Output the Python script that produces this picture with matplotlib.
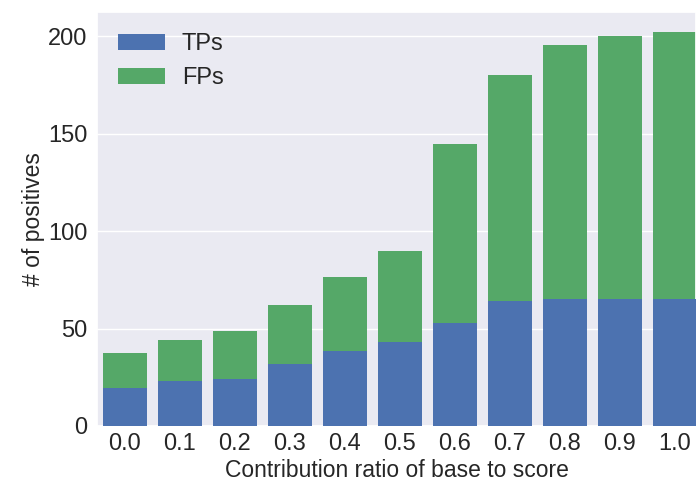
import matplotlib
matplotlib.use("Agg")
import matplotlib.pyplot as plt
import seaborn as sns
import numpy as np

categories = ["0.0", "0.1", "0.2", "0.3", "0.4", "0.5", "0.6", "0.7", "0.8", "0.9", "1.0"]
tps = [19.5, 23, 24, 32, 38.3, 43, 53, 64, 65, 65, 65]
totals = [37.3, 44, 49, 62, 76.3, 90, 145, 180, 195.4, 200, 202]

sns.set_theme(style="darkgrid")
plt.rcParams['font.family'] = ['Liberation Sans', 'DejaVu Sans']

fig = plt.figure(figsize=(6.96, 4.79), dpi=100)
ax = fig.add_axes([97/696, 53/479, 1 - 97/696, (426-12)/479])
x = np.arange(len(categories))
blue = "#4c72b0"
green = "#55a868"
ax.bar(x, totals, width=0.8, color=green, label="FPs", linewidth=0, zorder=2)
ax.bar(x, tps, width=0.8, color=blue, label="TPs", linewidth=0, zorder=3)
ax.set_xlim(-0.5, 10.39)
ax.set_ylim(0, 212.5)
ax.set_yticks([0, 50, 100, 150, 200])
ax.set_xticks(x)
ax.set_xticklabels(categories)
ax.tick_params(axis='both', labelsize=17, colors='#262626', length=0)
ax.tick_params(axis='x', pad=5)
ax.tick_params(axis='y', pad=7)
ax.set_xlabel("Contribution ratio of base to score", fontsize=16.5, color='#262626', labelpad=3)
ax.set_ylabel("# of positives", fontsize=16.5, color='#262626', labelpad=2)
h, l = ax.get_legend_handles_labels()
ax.legend([h[1], h[0]], [l[1], l[0]], loc='upper left', fontsize=17, frameon=False,
          handlelength=2.0, handletextpad=0.7, borderaxespad=0.5)
ax.grid(axis='x', visible=False)
fig.savefig("out.png", dpi=100)
